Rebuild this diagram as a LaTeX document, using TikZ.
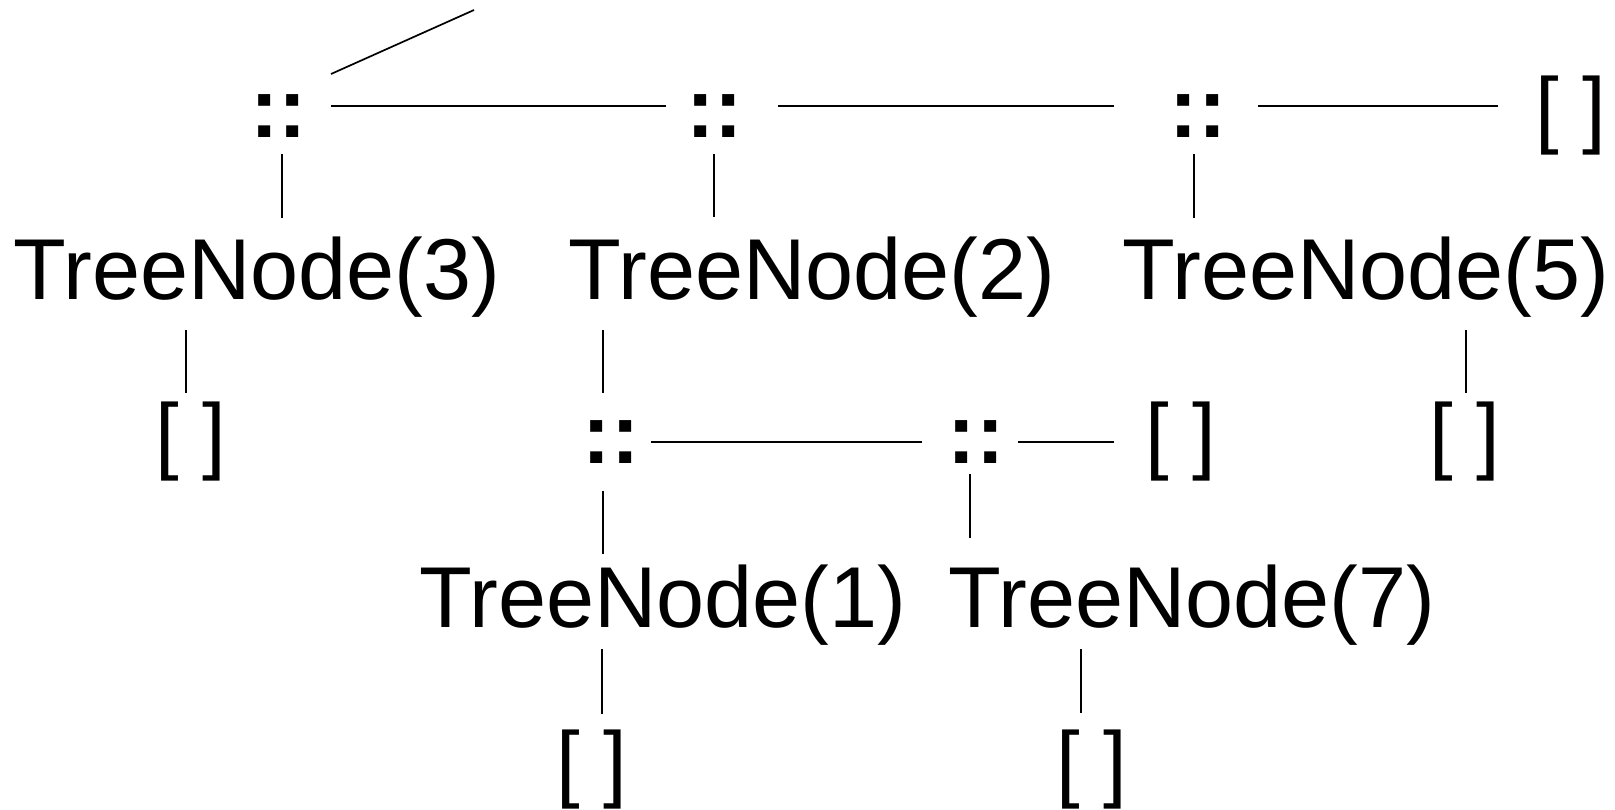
\documentclass[tikz,border=0pt]{standalone}
\usepackage{fontspec}
\setmainfont{Liberation Sans}
\begin{document}
\begin{tikzpicture}[x=0.5pt,y=-0.5pt,
  lbl/.style={anchor=base,inner sep=0pt,outer sep=0pt,font=\fontsize{42.5}{42.5}\selectfont},
  tree/.style={lbl,font=\fontsize{43.2}{43.2}\selectfont},
  cons/.style={lbl,font=\fontsize{42.5}{42.5}\selectfont\bfseries},
  link/.style={line width=0.85pt}]
\useasboundingbox (0,0) rectangle (1615,809);
% row 1
\node[cons] (c1) at (278.5,137) {::};
\node[cons] (c2) at (714.5,137) {::};
\node[cons] (c3) at (1198,137) {::};
\node[lbl] (n1) at (1571,137) {[ ]};
% row 2
\node[tree] (t3) at (257,299) {TreeNode(3)};
\node[tree] (t2) at (812,299) {TreeNode(2)};
\node[tree] (t5) at (1366,299) {TreeNode(5)};
% row 3
\node[lbl] (e3) at (191,463) {[ ]};
\node[cons] (c4) at (611,463) {::};
\node[cons] (c5) at (976,463) {::};
\node[lbl] (e4) at (1181,463) {[ ]};
\node[lbl] (e5) at (1465,463) {[ ]};
% row 4
\node[tree] (t1) at (663,627) {TreeNode(1)};
\node[tree] (t7) at (1192,627) {TreeNode(7)};
% row 5
\node[lbl] (e1) at (592,791) {[ ]};
\node[lbl] (e2) at (1092,791) {[ ]};
\coordinate (top) at (474,10);
% connectors
\draw[link] ([shift={(52.5,-63)}]c1.base) -- (top);
\draw[link] ([shift={(52.5,-31)}]c1.base) -- ([shift={(-48.5,-31)}]c2.base);
\draw[link] ([shift={(63.5,-31)}]c2.base) -- ([shift={(-84,-31)}]c3.base);
\draw[link] ([shift={(60,-31)}]c3.base) -- ([shift={(-73,-31)}]n1.base);
\draw[link] ([shift={(3.5,17)}]c1.base) -- ([shift={(25,-81)}]t3.base);
\draw[link] ([shift={(-0.5,17)}]c2.base) -- ([shift={(-98,-82)}]t2.base);
\draw[link] ([shift={(-4,17)}]c3.base) -- ([shift={(-172,-81)}]t5.base);
\draw[link] ([shift={(-71,31)}]t3.base) -- ([shift={(-5,-70)}]e3.base);
\draw[link] ([shift={(-209,31)}]t2.base) -- ([shift={(-8,-70)}]c4.base);
\draw[link] ([shift={(100,31)}]t5.base) -- ([shift={(1,-70)}]e5.base);
\draw[link] ([shift={(40,-21)}]c4.base) -- ([shift={(-54,-21)}]c5.base);
\draw[link] ([shift={(42,-21)}]c5.base) -- ([shift={(-67,-21)}]e4.base);
\draw[link] ([shift={(-8,28)}]c4.base) -- ([shift={(-60,-73)}]t1.base);
\draw[link] ([shift={(-6,11)}]c5.base) -- ([shift={(-222,-89)}]t7.base);
\draw[link] ([shift={(-61,22)}]t1.base) -- ([shift={(10,-77)}]e1.base);
\draw[link] ([shift={(-111,22)}]t7.base) -- ([shift={(-11,-78)}]e2.base);
\end{tikzpicture}
\end{document}
